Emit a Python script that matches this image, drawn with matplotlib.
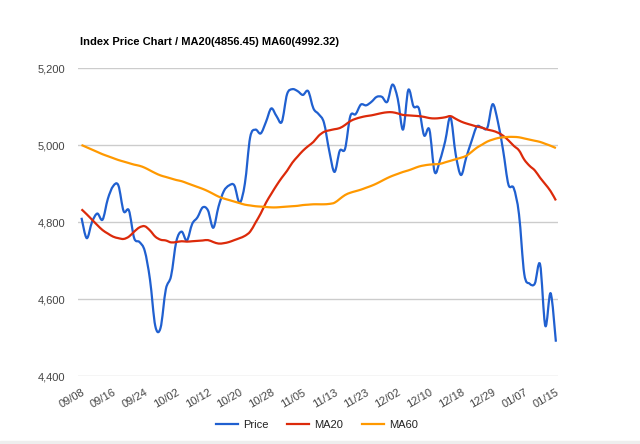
import numpy as np
import matplotlib.pyplot as plt
import matplotlib.ticker as mticker
from matplotlib.path import Path
from matplotlib.patches import PathPatch, Rectangle

# Data (one point per trading day)
price = [4811, 4758, 4800, 4822, 4806, 4860, 4893, 4895, 4828, 4830,
         4758, 4748, 4725, 4650, 4530, 4525, 4625, 4660, 4750, 4775,
         4752, 4795, 4812, 4838, 4830, 4785, 4840, 4880, 4895, 4895,
         4850, 4900, 5020, 5040, 5030, 5060, 5095, 5075, 5060, 5132,
         5145, 5140, 5130, 5140, 5095, 5080, 5058, 4985, 4930, 4985,
         4990, 5075, 5080, 5105, 5103, 5112, 5125, 5125, 5112, 5157,
         5120, 5040, 5143, 5100, 5095, 5025, 5040, 4930, 4960, 5010,
         5072, 4975, 4922, 4968, 5010, 5048, 5045, 5045, 5106, 5060,
         4985, 4897, 4888, 4820, 4665, 4640, 4640, 4690, 4530, 4615,
         4489]

ma20 = [4833, 4820, 4806, 4792, 4779, 4770, 4762, 4758, 4756, 4762,
        4775, 4786, 4789, 4778, 4762, 4754, 4752, 4747, 4748, 4750,
        4749, 4750, 4751, 4752, 4753, 4748, 4744, 4745, 4748, 4753,
        4758, 4764, 4775, 4798, 4822, 4850, 4873, 4895, 4915, 4933,
        4954, 4970, 4985, 4997, 5008, 5024, 5034, 5038, 5041, 5044,
        5052, 5062, 5068, 5072, 5075, 5077, 5080, 5083, 5085, 5085,
        5082, 5078, 5077, 5076, 5075, 5073, 5070, 5069, 5070, 5072,
        5075, 5068, 5061, 5056, 5052, 5048, 5045, 5040, 5037, 5032,
        5024, 5012, 4998, 4986, 4962, 4946, 4934, 4915, 4898, 4880,
        4856]

ma60 = [5000, 4994, 4988, 4982, 4976, 4971, 4966, 4961, 4957, 4953,
        4949, 4946, 4941, 4934, 4927, 4921, 4917, 4913, 4909, 4906,
        4901, 4896, 4891, 4886, 4880, 4873, 4866, 4861, 4857, 4853,
        4849, 4845, 4843, 4841, 4840, 4839, 4838, 4838, 4839, 4840,
        4841, 4842, 4844, 4845, 4846, 4846, 4846, 4847, 4850, 4860,
        4870, 4876, 4880, 4884, 4889, 4894, 4900, 4907, 4914, 4920,
        4925, 4930, 4934, 4939, 4944, 4947, 4949, 4950, 4951, 4955,
        4959, 4963, 4967, 4972, 4982, 4993, 5001, 5009, 5014, 5018,
        5020, 5021, 5021, 5020, 5017, 5014, 5011, 5008, 5003, 4998,
        4992]

tick_labels = ['09/08', '09/16', '09/24', '10/02', '10/12', '10/20', '10/28', '11/05',
               '11/13', '11/23', '12/02', '12/10', '12/18', '12/29', '01/07', '01/15']
label_every = 6

plt.rcParams['font.family'] = ['Liberation Sans', 'DejaVu Sans']


def smooth_path(xs, ys):
    # smooth curve through the points (bezier segments), like a "function" curve
    p = np.column_stack([xs, ys]).astype(float)
    ext = np.vstack([p[0], p, p[-1]])
    verts = [p[0]]
    codes = [Path.MOVETO]
    for i in range(len(p) - 1):
        p0, p1, p2, p3 = ext[i], ext[i + 1], ext[i + 2], ext[i + 3]
        verts += [p1 + (p2 - p0) / 6, p2 - (p3 - p1) / 6, p2]
        codes += [Path.CURVE4] * 3
    return Path(verts, codes)


fig = plt.figure(figsize=(6.4, 4.44), dpi=100)
ax = fig.add_axes([78 / 640, 1 - 376 / 444, 480 / 640, 308 / 444])

x = list(range(len(price)))
series = [(price, '#2060d0', 'Price'), (ma20, '#dc2a0a', 'MA20'), (ma60, '#ff9900', 'MA60')]
for ys, col, name in series:
    ax.add_patch(PathPatch(smooth_path(x, ys), fill=False, edgecolor=col, lw=1.6,
                           joinstyle='round', capstyle='butt'))
    ax.plot([], [], color=col, lw=1.6, label=name)

ax.set_xlim(-0.66, 90.4)
ax.set_ylim(4400, 5200)
ax.set_yticks([4400, 4600, 4800, 5000, 5200])
ax.yaxis.set_major_formatter(mticker.FuncFormatter(lambda v, p: f'{v:,.0f}'))
ax.set_xticks(x[::label_every])
ax.set_xticklabels(tick_labels, rotation=30, ha='right', rotation_mode='anchor')

ax.grid(axis='y', color='#cccccc', lw=1)
ax.set_axisbelow(True)
for s in ax.spines.values():
    s.set_visible(False)
ax.tick_params(length=0, labelsize=8, colors='#444444')
ax.tick_params(axis='y', pad=9)
ax.tick_params(axis='x', pad=8)

fig.text(80 / 640, 1 - 42 / 444, 'Index Price Chart / MA20(4856.45) MA60(4992.32)',
         fontsize=8, fontweight='bold', color='#000000', va='center')

fig.legend(loc='center', bbox_to_anchor=(317 / 640, 1 - 425 / 444), ncol=3, frameon=False,
           fontsize=8, handlelength=2.0, columnspacing=1.7, handletextpad=0.45,
           labelcolor='#222222')

fig.patches.append(Rectangle((0, 0), 1, 3 / 444, transform=fig.transFigure,
                             color='#eeeeee', zorder=-1))

fig.savefig('out.png', dpi=100)
